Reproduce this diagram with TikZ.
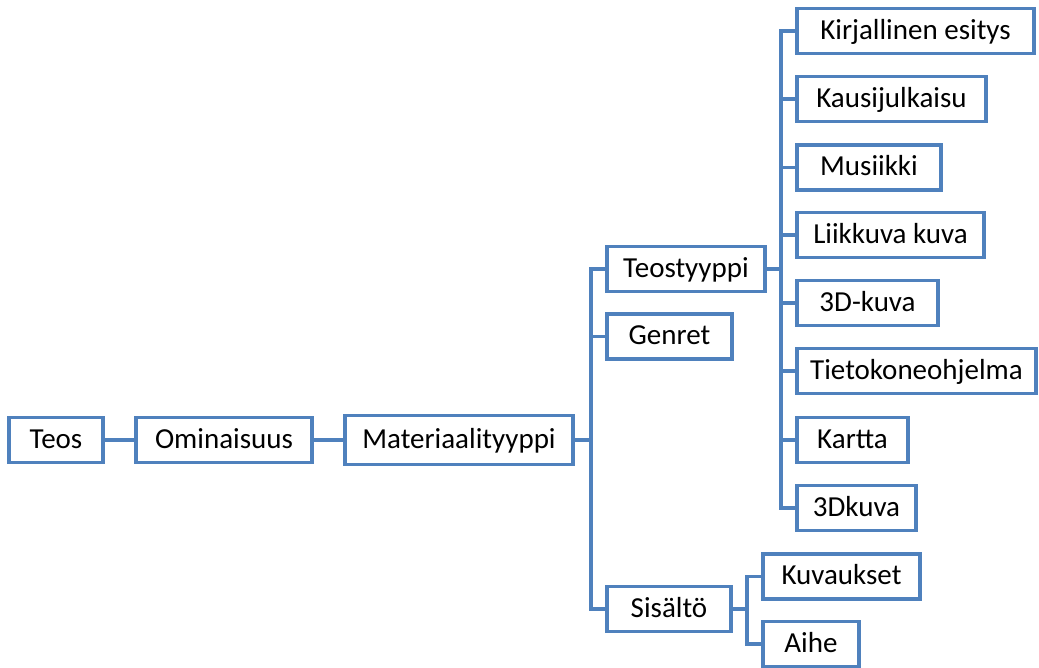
\documentclass[tikz,border=0pt]{standalone}
\usepackage{fontspec}
\setmainfont{Carlito}
\definecolor{lineblue}{HTML}{4F81BD}
\begin{document}
\begin{tikzpicture}[x=1pt,y=-1pt,
  box/.style={draw=lineblue, line width=3.1pt, minimum height=45pt, inner sep=0pt,
    text height=20.5pt, text depth=4.5pt,
    font=\fontsize{29}{34}\selectfont, text=black},
  conn/.style={draw=lineblue, line width=3.1pt}]
\useasboundingbox (0,0) rectangle (1039,667);
\node[box, minimum width=94pt]  (teos)  at (56,440) {Teos};
\node[box, minimum width=176pt] (omin)  at (224,440) {Ominaisuus};
\node[box, minimum width=228pt, minimum height=49pt] (mat) at (459,440) {Materiaalityyppi};
\node[box, minimum width=158pt] (teost) at (686,269) {Teostyyppi};
\node[box, minimum width=125pt] (genret) at (669.5,336.5) {Genret};
\node[box, minimum width=124pt] (sis) at (669,609) {Sisältö};
\node[box, minimum width=237pt] (kirj) at (915.5,31) {Kirjallinen esitys};
\node[box, minimum width=189pt] (kausi) at (891.5,99) {Kausijulkaisu};
\node[box, minimum width=144pt] (mus) at (869,167.5) {Musiikki};
\node[box, minimum width=187pt] (liik) at (890.5,235) {Liikkuva kuva};
\node[box, minimum width=141pt] (dkuva) at (867.5,303) {3D-kuva};
\node[box, minimum width=239pt] (tieto) at (916.5,371) {Tietokoneohjelma};
\node[box, minimum width=111pt] (kartta) at (852.5,440) {Kartta};
\node[box, minimum width=119pt] (dk) at (856.5,508) {3Dkuva};
\node[box, minimum width=157pt] (kuv) at (841.5,576.5) {Kuvaukset};
\node[box, minimum width=96pt] (aihe) at (811,644) {Aihe};
\coordinate (b1) at (591,0);
\coordinate (b2) at (781,0);
\coordinate (b3) at (747,0);
\draw[conn] (teos.east) -- (omin.west);
\draw[conn] (omin.east) -- (mat.west);
\draw[conn] (mat.east) -- (mat.east -| b1);
\draw[conn] (teost.west) -- (teost.west -| b1) |- (sis.west);
\draw[conn] (genret.west) -- (genret.west -| b1);
\draw[conn] (teost.east) -- (teost.east -| b2);
\draw[conn] (kirj.west) -- (kirj.west -| b2) |- (dk.west);
\foreach \n in {kausi,mus,liik,dkuva,tieto,kartta}
  \draw[conn] (\n.west) -- (\n.west -| b2);
\draw[conn] (sis.east) -- (sis.east -| b3);
\draw[conn] (kuv.west) -- (kuv.west -| b3) |- (aihe.west);
\end{tikzpicture}
\end{document}
